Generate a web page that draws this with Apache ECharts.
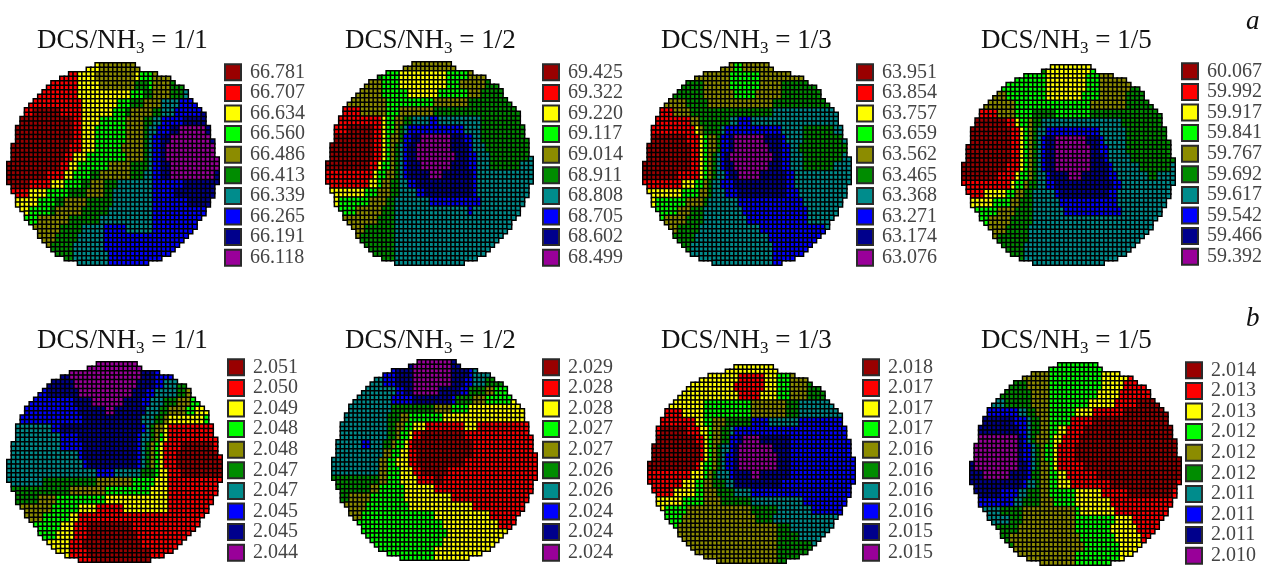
<!DOCTYPE html>
<html><head><meta charset="utf-8">
<style>html,body{margin:0;padding:0;background:#fff}#c{width:1270px;height:566px}</style>
<script src="https://cdn.jsdelivr.net/npm/echarts@6/dist/echarts.min.js"></script>
</head><body><div id="c"></div>
<script>
const palette=['#990000','#ff0000','#ffff00','#00ff00','#8c8c00','#008c00','#008c8c','#0000ff','#00008c','#990099'];
const ratios=['1/1','1/2','1/3','1/5','1/1','1/2','1/3','1/5'];
const legendA1=['66.781','66.707','66.634','66.560','66.486','66.413','66.339','66.265','66.191','66.118'];
const legendA2=['69.425','69.322','69.220','69.117','69.014','68.911','68.808','68.705','68.602','68.499'];
const legendA3=['63.951','63.854','63.757','63.659','63.562','63.465','63.368','63.271','63.174','63.076'];
const legendA4=['60.067','59.992','59.917','59.841','59.767','59.692','59.617','59.542','59.466','59.392'];
const legendB1=['2.051','2.050','2.049','2.048','2.048','2.047','2.047','2.045','2.045','2.044'];
const legendB2=['2.029','2.028','2.028','2.027','2.027','2.026','2.026','2.024','2.024','2.024'];
const legendB3=['2.018','2.017','2.017','2.017','2.016','2.016','2.016','2.016','2.015','2.015'];
const legendB4=['2.014','2.013','2.013','2.012','2.012','2.012','2.011','2.011','2.011','2.010'];
// half width of the wafer, in cells, for each of its 45 rows
const waferHalfWidth=[4.5,6,10,12.5,14,15.5,16.5,17.2,18.3,19,20,20.5,21,21.3,21.6,22,22,22.5,22.8,23,23.3,23.5,23.7,24,24,24,23.7,23.3,23,22.5,22.2,21.7,21,20.5,20,19.3,18.5,17.5,17,16,15,14,13,11,8];
// each string: pairs level:endColumn for every second cell row
const mapA1=["2:21 4:30 5:48","1:16 2:20 4:29 2:30 3:33 4:48","1:16 2:21 4:29 5:32 3:33 4:37 5:48","1:16 2:28 3:31 5:33 4:37 5:40 6:48","1:17 2:25 3:28 5:31 4:35 6:39 7:48","1:6 0:12 1:17 2:24 3:27 5:28 4:33 5:35 6:38 7:44 8:48","0:15 1:17 2:21 3:27 4:31 5:33 6:35 7:40 8:48","0:15 1:17 2:20 3:27 4:31 5:32 6:34 7:37 8:39 9:45 8:48","0:15 1:17 2:20 3:27 4:31 5:32 6:33 7:35 8:37 9:46 8:48","0:14 1:17 2:20 3:26 4:31 5:32 6:33 7:35 8:36 9:47 8:48","0:13 1:15 2:18 3:27 4:31 5:32 6:33 7:35 8:36 9:48","0:12 1:14 2:16 3:23 4:28 5:32 6:33 7:35 8:37 9:48","0:9 1:13 2:15 3:19 5:21 4:28 5:31 6:33 7:35 8:37 9:47 8:48","0:5 1:10 2:13 3:17 5:19 4:22 5:25 6:33 7:40 8:48","1:5 2:9 3:14 5:18 4:22 5:24 6:33 7:38 8:48","2:7 3:11 5:13 4:18 5:24 6:33 7:41 8:48","2:5 3:10 5:11 4:17 5:23 6:33 7:48","3:7 4:14 5:21 6:33 7:48","3:6 4:12 5:17 6:22 7:27 6:33 7:48","4:11 5:16 6:22 7:48","4:10 5:15 6:22 7:48","5:15 6:23 7:48","6:23 7:48"];
const mapA2=["4:48","5:13 3:17 2:28 3:33 4:48","4:13 3:17 2:28 3:31 4:37 5:48","4:13 3:19 2:26 3:33 4:36 5:48","4:14 3:25 4:33 5:48","1:8 4:14 3:17 4:25 5:48","1:13 2:14 3:16 4:18 5:20 6:24 7:26 6:36 5:48","1:5 0:11 1:13 2:14 3:16 4:17 5:18 6:19 7:32 6:36 5:48","0:11 1:13 2:14 3:15 4:17 5:18 7:20 8:22 9:29 8:32 7:34 6:36 5:48","0:11 1:13 2:14 3:15 4:16 5:17 6:18 7:19 8:21 9:29 8:33 7:34 6:37 5:48","0:11 1:13 2:14 3:15 4:16 5:17 6:18 7:19 8:21 9:30 8:33 7:35 6:38 5:47 6:48","0:10 1:12 2:13 3:15 4:16 5:17 6:18 7:19 8:22 9:29 8:33 7:35 6:38 5:45 6:48","1:11 2:12 3:14 4:16 5:17 6:18 7:19 8:24 9:27 8:34 7:35 6:48","1:10 2:12 3:13 4:15 5:17 6:19 7:21 8:34 7:35 6:48","2:9 3:12 4:15 5:17 6:21 7:23 8:34 7:35 6:48","2:3 3:10 4:14 5:16 6:24 7:36 6:48","3:7 4:13 5:16 6:33 7:34 6:48","3:4 4:12 5:16 6:48","4:9 5:16 6:48","4:8 5:16 6:48","5:16 6:48","5:16 6:48","5:16 6:48"];
const mapA3=["4:21 3:23 4:48","4:20 3:27 4:48","5:14 4:20 3:27 4:32 5:48","5:14 4:21 3:26 4:32 5:48","4:10 5:15 4:30 5:48","1:7 4:11 5:30 6:48","1:11 4:13 5:20 6:22 7:25 6:48","1:12 2:13 4:14 5:18 6:19 7:32 6:37 5:44 6:48","1:2 0:10 1:13 2:14 3:15 4:17 5:18 7:20 8:21 9:28 8:32 7:33 6:37 5:46 6:48","0:11 1:13 2:14 3:15 4:17 5:18 7:20 8:21 9:29 8:32 7:34 6:36 5:47 6:48","0:11 1:13 2:14 3:15 4:16 5:17 6:18 7:19 8:20 9:30 8:32 7:34 6:37 5:46 6:48","0:11 1:13 2:14 3:15 4:16 5:17 6:18 7:19 8:21 9:29 8:32 7:34 6:37 5:44 6:48","0:8 1:13 2:14 3:15 4:16 5:17 6:19 7:20 8:22 9:27 8:33 7:35 6:48","1:9 2:12 3:14 4:15 5:16 6:18 7:21 8:33 7:35 6:48","2:9 3:13 4:15 5:16 6:19 7:22 8:33 7:36 6:48","2:3 3:10 4:14 5:15 6:22 7:37 6:48","3:8 4:11 5:14 6:23 7:38 6:48","3:5 4:10 5:14 6:24 7:38 6:48","4:8 5:13 6:27 7:42 6:48","4:7 5:12 6:29 7:48","5:11 6:30 7:48","5:11 6:30 7:48","6:30 7:48"];
const mapA4=["5:19 2:29 3:48","3:19 2:28 3:31 4:48","3:19 2:28 3:31 4:38 5:48","4:10 3:19 2:27 3:31 4:37 5:48","4:12 3:29 4:37 5:48","1:8 4:12 3:16 5:21 3:29 5:48","1:3 0:10 1:12 2:13 3:15 4:16 5:18 6:36 5:48","0:11 1:13 2:14 3:15 4:16 5:17 6:19 7:31 6:37 5:48","0:11 1:13 2:14 3:15 4:16 5:17 6:18 7:19 8:21 9:28 8:31 7:32 6:37 5:48","0:11 1:13 2:14 3:15 4:16 5:17 6:18 7:19 8:21 9:29 8:31 7:33 6:37 5:48","0:11 1:13 2:14 3:15 4:16 5:17 6:18 7:19 8:21 9:29 8:32 7:33 6:38 5:48","0:10 1:13 2:14 3:15 4:16 5:17 6:18 7:19 8:21 9:29 8:33 7:34 6:40 5:47 6:48","0:8 1:12 2:13 3:15 4:16 5:17 6:19 7:20 8:24 9:27 8:33 7:35 6:42 5:44 6:48","1:11 2:12 3:14 4:15 5:17 6:19 7:21 8:34 7:36 6:48","1:5 2:10 3:12 4:14 5:16 6:21 7:22 8:33 7:35 6:48","2:7 3:11 4:13 5:16 6:22 7:35 6:48","2:3 3:8 4:12 5:16 6:23 7:36 6:48","3:6 4:11 5:16 6:48","4:10 5:15 6:48","4:8 5:15 6:48","5:14 6:48","5:14 6:48","6:48"];
const mapB1=["8:15 9:30 8:48","8:14 9:30 8:33 7:48","8:15 9:29 8:33 7:35 6:38 5:48","7:9 8:16 9:28 8:31 7:33 6:38 5:40 4:48","7:15 8:19 9:26 8:30 7:32 6:35 5:38 4:41 3:48","7:16 8:22 9:24 8:31 6:34 5:36 4:40 3:42 2:48","7:17 8:30 6:33 5:35 4:36 2:44 3:48","6:10 7:12 8:30 7:31 6:32 5:33 4:35 2:36 1:48","6:12 7:16 8:29 7:30 6:32 5:33 4:34 3:35 2:36 1:48","6:12 7:17 8:29 7:30 6:31 5:32 4:33 3:34 2:35 1:39 0:46 1:48","6:16 7:17 8:29 7:30 6:31 5:32 4:33 3:34 2:35 1:38 0:47 1:48","6:17 7:18 8:29 7:30 6:31 5:32 4:33 3:34 2:35 1:38 0:48","6:20 7:24 6:30 5:33 3:34 2:36 1:39 0:48","6:8 5:20 4:28 3:33 2:36 1:48","5:14 4:22 3:32 2:36 1:48","5:7 4:11 3:22 2:36 1:48","4:10 3:16 2:20 1:26 2:36 1:48","4:8 3:14 2:16 1:48","4:6 3:12 2:15 1:18 0:28 1:48","3:11 2:15 1:18 0:29 1:48","2:14 1:17 0:30 1:48","2:14 1:18 0:32 1:48","1:19 0:32 1:48"];
const mapB2=["8:19 9:28 8:48","7:15 8:19 9:28 8:32 7:33 6:48","6:12 7:15 8:19 9:28 8:31 7:33 6:36 5:48","6:15 7:17 8:19 9:25 8:30 7:32 5:36 4:38 3:48","6:14 7:19 8:28 7:29 5:33 4:36 3:42 2:48","6:14 5:24 4:28 3:32 2:48","6:13 5:16 4:18 3:26 2:48","6:13 5:15 4:17 3:19 2:22 1:31 2:34 1:48","6:13 5:15 4:16 3:18 2:19 1:21 0:31 1:48","6:7 7:9 6:12 5:14 4:15 3:17 2:18 1:19 0:33 1:48","6:12 4:14 3:16 2:18 1:20 0:33 1:48","6:11 4:13 3:15 2:18 1:20 0:31 1:48","6:11 4:13 3:16 2:19 1:21 0:27 1:48","5:11 4:13 3:16 2:20 1:24 0:26 1:48","5:9 4:11 3:17 2:24 1:48","5:4 4:9 3:17 2:28 1:48","4:8 3:18 2:33 1:48","4:7 3:24 2:37 1:48","4:6 3:26 2:39 1:48","3:27 2:41 1:48","3:26 2:48","3:24 2:48","3:24 2:48"];
const mapB3=["2:48","2:21 1:27 2:30 3:33 4:48","2:20 1:27 2:30 3:33 4:37 5:41 6:48","2:21 1:26 2:30 3:33 4:37 5:42 6:48","2:13 3:24 4:32 5:35 6:48","1:8 2:13 3:24 4:32 5:35 6:48","1:11 2:13 3:15 4:18 5:24 7:28 6:35 7:48","1:3 0:9 1:12 2:14 3:15 4:17 5:19 6:20 7:48","0:11 1:13 2:14 3:15 4:17 5:19 7:21 8:22 9:26 8:33 7:48","0:12 1:13 2:14 3:15 4:16 5:17 6:19 7:20 8:21 9:29 8:33 7:48","0:12 1:13 2:14 3:15 4:16 5:17 6:18 7:20 8:21 9:30 8:33 7:48","0:11 1:12 2:13 3:15 4:16 5:17 6:18 7:20 8:21 9:30 8:33 7:48","1:10 2:13 3:14 4:15 5:16 6:19 7:20 8:24 9:26 8:33 7:48","1:8 2:11 3:13 4:15 5:18 6:20 8:31 7:48","1:6 2:11 3:13 4:16 5:20 6:24 7:48","2:8 3:13 4:17 5:24 6:36 7:48","2:4 3:9 4:24 5:30 6:38 7:46 6:48","3:8 4:25 5:29 6:48","3:7 4:30 5:33 6:48","3:7 4:30 5:35 6:48","4:30 5:38 6:48","4:30 5:48","4:30 5:48"];
const mapB4=["3:48","4:18 3:30 2:36 1:48","5:13 4:18 3:30 2:35 1:48","5:14 4:18 3:29 2:34 1:48","6:8 5:14 4:18 3:27 2:33 1:38 0:48","7:11 6:13 5:15 4:18 3:24 2:28 1:35 0:48","8:10 7:13 6:14 5:16 4:18 3:23 1:28 0:48","8:11 7:13 6:14 5:16 4:18 3:20 2:22 1:26 0:48","9:11 8:12 7:13 6:14 5:15 4:18 3:19 2:21 1:25 0:48","9:11 8:12 7:14 6:15 5:16 4:17 3:19 2:20 1:24 0:48","8:1 9:11 8:12 7:14 6:15 5:16 4:17 3:19 2:20 1:24 0:48","8:1 9:11 8:13 7:14 6:15 5:16 4:18 3:19 2:20 1:26 0:48","8:3 9:9 8:13 7:14 5:16 4:18 3:20 2:22 1:29 0:48","8:12 7:13 6:15 5:16 4:18 3:20 2:23 1:32 0:47 1:48","8:7 7:11 6:13 5:16 4:18 3:24 2:30 1:36 0:46 1:48","7:10 6:12 5:16 4:19 3:24 2:32 1:48","6:7 5:12 4:24 3:25 2:33 1:48","6:9 5:12 4:24 3:33 2:37 1:48","6:6 5:11 4:24 3:32 2:38 1:48","5:9 4:25 3:33 2:39 1:48","5:10 4:26 3:34 2:48","4:24 3:34 2:48","4:24 3:34 2:48"];

const maps=[mapA1,mapA2,mapA3,mapA4,mapB1,mapB2,mapB3,mapB4];
const legends=[legendA1,legendA2,legendA3,legendA4,legendB1,legendB2,legendB3,legendB4];
// layout, px: left, top, width, height of each wafer; left and top of each legend; left and top of titles
const waferBoxes=[[7,63,212,202],[326,62,207,203],[643,63,208,202],[962,65,213,200],[7,362,215,200],[332,360,205,200],[648,365,207,198],[970,363,211,202]];
const legendBoxes=[[224,62],[542,62],[856,62],[1181,61],[227,357],[542,357],[862,357],[1185,360]];
const titleBoxes=[[32,19],[340,19],[656,19],[976,19],[32,319],[340,319],[656,319],[976,319]];
const COLS=48,ROWS=45,CENTER=24;

function cells(map){
  const out=[];
  for(let r=0;r<ROWS;r++){
    const hw=waferHalfWidth[r],a=Math.round(CENTER-hw),b=Math.round(CENTER+hw);
    let prev=0;
    map[Math.floor(r/2)].split(' ').forEach(t=>{
      const [lv,end]=t.split(':').map(Number);
      for(let c=Math.max(prev,a);c<Math.min(end,b);c++)out.push([c,r,lv]);
      prev=Math.max(prev,end);
    });
  }
  return out;
}
const colCats=Array.from({length:COLS},(_,i)=>i),rowCats=Array.from({length:ROWS},(_,i)=>i);
const grid=[],xAxis=[],yAxis=[],series=[],title=[];
const hidden={show:false};
maps.forEach((m,i)=>{
  const [l,t,w,h]=waferBoxes[i];
  grid.push({left:l,top:t,width:w,height:h});
  xAxis.push({type:'category',gridIndex:grid.length-1,data:colCats,...hidden});
  yAxis.push({type:'category',gridIndex:grid.length-1,data:rowCats,inverse:true,...hidden});
  series.push({type:'heatmap',xAxisIndex:grid.length-1,yAxisIndex:grid.length-1,progressive:0,animation:false,
    data:cells(m).map(d=>({value:d,itemStyle:{color:palette[d[2]]}})),
    itemStyle:{borderColor:'#000',borderWidth:1.5},emphasis:{disabled:true}});
  const [ll,lt]=legendBoxes[i];
  grid.push({left:ll,top:lt,width:18,height:206});
  xAxis.push({type:'category',gridIndex:grid.length-1,data:['k'],...hidden});
  yAxis.push({type:'category',gridIndex:grid.length-1,data:legends[i],inverse:true,position:'right',
    axisLine:hidden,axisTick:hidden,
    axisLabel:{show:true,interval:0,margin:8,color:'#444',fontFamily:'Liberation Serif',fontSize:20}});
  series.push({type:'scatter',xAxisIndex:grid.length-1,yAxisIndex:grid.length-1,symbol:'rect',symbolSize:[16,16],animation:false,
    data:legends[i].map((v,k)=>({value:['k',k],itemStyle:{color:palette[k]}})),
    itemStyle:{borderColor:'#2a2a2a',borderWidth:2,opacity:1}});
  title.push({left:titleBoxes[i][0],top:titleBoxes[i][1],
    text:'{m|DCS/NH}{s|3}{m| = '+ratios[i]+'}',
    textStyle:{fontWeight:'normal',rich:{m:{fontFamily:'Liberation Serif',fontWeight:'normal',fontSize:27,color:'#111'},
      s:{fontFamily:'Liberation Serif',fontWeight:'normal',fontSize:17,color:'#111',padding:[16,0,0,0]}}}});
});
title.push({left:1241,top:3,text:'a',textStyle:{fontFamily:'Liberation Serif',fontStyle:'italic',fontWeight:'normal',fontSize:27,color:'#111'}});
title.push({left:1241,top:300,text:'b',textStyle:{fontFamily:'Liberation Serif',fontStyle:'italic',fontWeight:'normal',fontSize:27,color:'#111'}});
const chart=echarts.init(document.getElementById('c'),null,{renderer:'canvas'});
chart.setOption({animation:false,backgroundColor:'#fff',title,grid,xAxis,yAxis,series,tooltip:{show:false}});
</script></body></html>
